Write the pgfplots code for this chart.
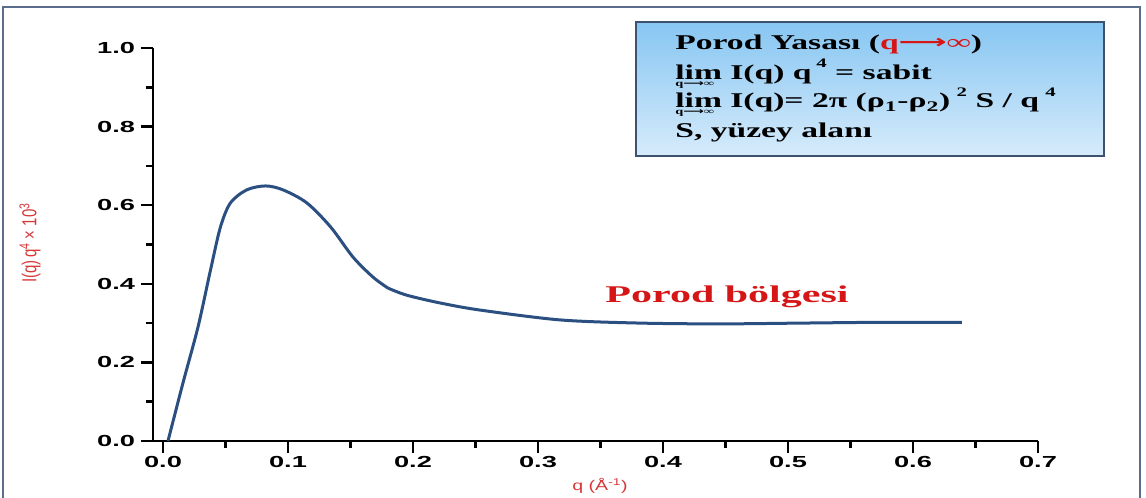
\documentclass[border=0pt]{standalone}
\usepackage{pgfplots}
\pgfplotsset{compat=1.18}
\usepackage{fontspec}
\setmainfont{Liberation Serif}
\newfontfamily\sansf{Liberation Sans}
\newfontfamily\dejavu{DejaVu Sans}
\definecolor{curve}{RGB}{43,79,128}
\definecolor{lblred}{RGB}{214,56,58}
\definecolor{txtred}{RGB}{214,22,22}
\definecolor{boxtop}{RGB}{135,198,242}
\definecolor{boxbot}{RGB}{214,235,251}
\definecolor{boxedge}{RGB}{62,82,112}
\definecolor{frame}{RGB}{90,110,140}
\newcommand{\arr}{{\dejavu\bfseries\raisebox{1pt}{\scalebox{1.0}[0.9]{⟶}}}}
\newcommand{\limq}{\rlap{\raisebox{-7pt}{\fontsize{9}{9}\selectfont q{\dejavu ⟶}∞}}lim}
\begin{document}
\begin{tikzpicture}[x=1pt,y=1pt]
\path[use as bounding box] (0pt,0pt) rectangle (1146pt,498pt);
\draw[frame, line width=2.5pt] (3pt,-2pt) -- (3pt,491pt) -- (1140pt,491pt) -- (1140pt,-2pt);
\begin{axis}[
  at={(153pt,57pt)}, anchor=south west,
  scale only axis, width=885pt, height=393pt,
  xmin=-0.008, xmax=0.7, ymin=0, ymax=1,
  axis lines=left, axis line style={-, line width=2.5pt, black},
  tick align=outside,
  major tick length=12pt, minor tick length=7pt,
  every tick/.style={black, line width=2.5pt},
  xtick={0,0.1,0.2,0.3,0.4,0.5,0.6,0.7},
  xticklabels={0.0,0.1,0.2,0.3,0.4,0.5,0.6,0.7},
  minor xtick={0.05,0.15,0.25,0.35,0.45,0.55,0.65},
  ytick={0,0.2,0.4,0.6,0.8,1.0},
  yticklabels={0.0,0.2,0.4,0.6,0.8,1.0},
  minor ytick={0.1,0.3,0.5,0.7,0.9},
  ticklabel style={font=\sansf\bfseries\fontsize{16}{16}\selectfont, xscale=1.7},
  clip=false,
]
\addplot[curve, line width=3pt, smooth, tension=0.5] coordinates {
(0.004,0) (0.016,0.148) (0.028,0.290) (0.038,0.435) (0.046,0.545) (0.054,0.606)
(0.067,0.639) (0.082,0.649) (0.096,0.639) (0.115,0.606) (0.134,0.545)
(0.152,0.468) (0.168,0.417) (0.180,0.389)
};
\addplot[curve, line width=3pt, smooth, tension=0.5] coordinates {
(0.180,0.389) (0.195,0.371) (0.222,0.351) (0.254,0.333) (0.318,0.308)
(0.382,0.300) (0.446,0.298) (0.51,0.300) (0.574,0.302) (0.639,0.302)
};
\end{axis}
% y label
\node[lblred, rotate=90, font=\sansf\fontsize{15}{15}\selectfont] at (30pt,255pt)
  {\scalebox{1}[1.35]{I(q)\,q\textsuperscript{4} × 10\textsuperscript{3}}};
% x label
\node[lblred, font=\sansf\fontsize{14}{14}\selectfont, xscale=1.4] at (600pt,12pt)
  {q (Å\textsuperscript{-1})};
% box
\shade[top color=boxtop, bottom color=boxbot] (636pt,342pt) rectangle (1104pt,476pt);
\draw[boxedge, line width=2pt] (636pt,342pt) rectangle (1104pt,476pt);
\begin{scope}[every node/.style={anchor=base west, xscale=1.6, inner sep=0pt,
    font=\bfseries\fontsize{21}{21}\selectfont}]
\node at (675pt,448pt) {Porod Yasası (\textcolor{txtred}{q\arr∞})};
\node at (675pt,418pt) {\limq{} I(q) q\hspace{3pt}\raisebox{12pt}{\fontsize{13}{13}\selectfont 4} = sabit};
\node at (675pt,390pt) {\limq{} I(q)= 2π (ρ\textsubscript{1}-ρ\textsubscript{2})\hspace{4pt}\raisebox{11pt}{\fontsize{13}{13}\selectfont 2} S / q\hspace{4pt}\raisebox{11pt}{\fontsize{13}{13}\selectfont 4}};
\node at (675pt,360pt) {S, yüzey alanı};
\end{scope}
\node[txtred, anchor=base, xscale=1.75, font=\bfseries\fontsize{24}{24}\selectfont] at (727pt,195pt) {Porod bölgesi};
\end{tikzpicture}
\end{document}
